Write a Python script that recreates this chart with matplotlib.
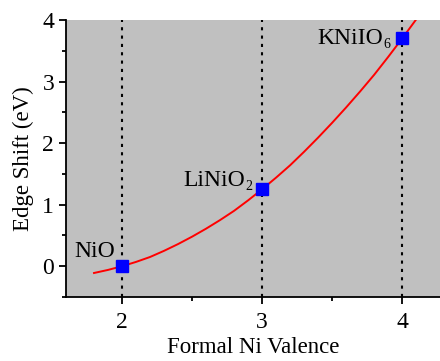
import matplotlib
matplotlib.use("Agg")
import matplotlib.pyplot as plt
from matplotlib.ticker import MultipleLocator

plt.rcParams['font.family'] = ['Liberation Serif', 'DejaVu Serif']

compounds = ["NiO", "LiNiO", "KNiIO"]
subscripts = ["", "2", "6"]
valence = [2, 3, 4]
shift = [0.0, 1.25, 3.7]

fit_x = [1.8, 1.9, 2.0, 2.1, 2.2, 2.3, 2.4, 2.5, 2.6, 2.7, 2.8, 2.9, 3.0,
         3.1, 3.2, 3.3, 3.4, 3.5, 3.6, 3.7, 3.8, 3.9, 4.0, 4.1]
fit_y = [-0.11, -0.06, 0.0, 0.07, 0.15, 0.25, 0.36, 0.48, 0.61, 0.75, 0.90,
         1.07, 1.25, 1.44, 1.64, 1.86, 2.09, 2.33, 2.58, 2.84, 3.11, 3.40,
         3.70, 4.01]

fig = plt.figure(figsize=(4.4, 3.61), dpi=100)
ax = fig.add_axes([66/440, 1-297/361, 1-66/440, 277/361])
ax.set_facecolor('#c0c0c0')

for v in valence:
    ax.axvline(v, color='black', linestyle=(0, (1.5, 2.5)), linewidth=1.5, zorder=1)

ax.plot(fit_x, fit_y, color='red', linewidth=1.4, zorder=2)
ax.plot(valence, shift, linestyle='none', marker='s', markersize=8.5,
        color='blue', zorder=3)

offsets = [(-7, 9), (-10, 3), (-12, -6)]
for name, sub, x, y, off in zip(compounds, subscripts, valence, shift, offsets):
    if sub:
        ax.annotate(sub, (x, y), xytext=(off[0], off[1] - 4),
                    textcoords='offset pixels', ha='right', va='baseline',
                    fontsize=10)
        main_off = (off[0] - 7, off[1])
    else:
        main_off = off
    ax.annotate(name, (x, y), xytext=main_off, textcoords='offset pixels',
                ha='right', va='baseline', fontsize=17)

ax.set_xlim(1.6, 4.27)
ax.set_ylim(-0.5, 4.0)
ax.xaxis.set_major_locator(MultipleLocator(1))
ax.xaxis.set_minor_locator(MultipleLocator(0.5))
ax.yaxis.set_major_locator(MultipleLocator(1))
ax.yaxis.set_minor_locator(MultipleLocator(0.5))
ax.tick_params(which='major', direction='out', length=5, width=1.3, labelsize=17)
ax.tick_params(axis='x', which='major', pad=6)
ax.tick_params(which='minor', direction='out', length=3, width=1.3)
ax.spines['top'].set_visible(False)
ax.spines['right'].set_visible(False)
ax.spines['left'].set_linewidth(1.3)
ax.spines['bottom'].set_linewidth(1.3)

ax.set_xlabel("Formal Ni Valence", fontsize=16.5, labelpad=3)
ax.set_ylabel("Edge Shift (eV)", fontsize=16.5, labelpad=6)

fig.savefig("out.png", dpi=100)
